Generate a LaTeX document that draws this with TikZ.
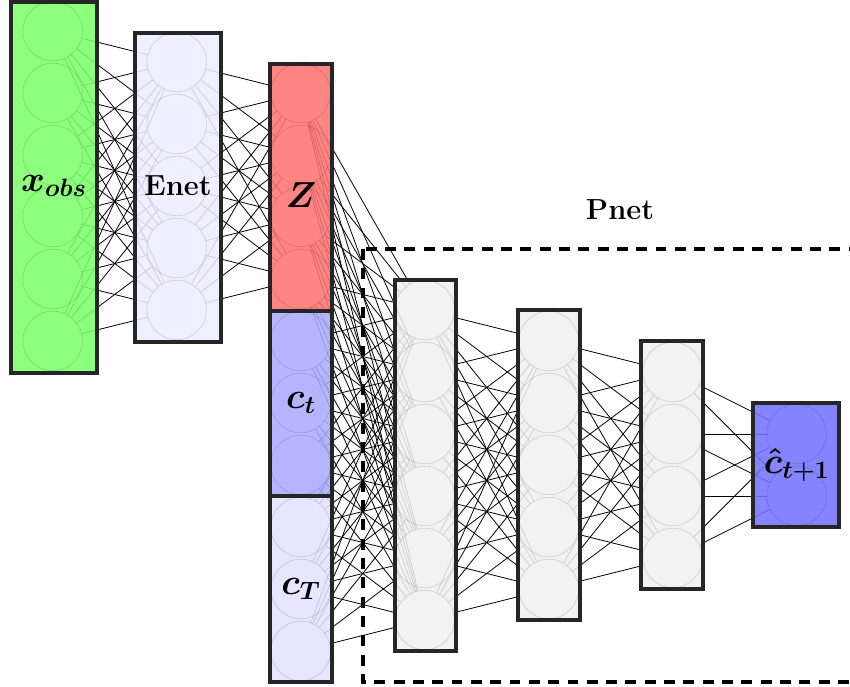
\documentclass[tikz,border=0pt]{standalone}
\usepackage{amsmath}
\usepackage{amssymb}
\usetikzlibrary{backgrounds}

\definecolor{obsgreen}{HTML}{7CFF6A}
\definecolor{enetblue}{HTML}{EDEDFF}
\definecolor{zred}{HTML}{FF7373}
\definecolor{ctblue}{HTML}{ABABFF}
\definecolor{cTblue}{HTML}{E2E2FF}
\definecolor{pnetgray}{HTML}{F0F0F0}
\definecolor{outblue}{HTML}{7373FF}

\pgfdeclarelayer{links}
\pgfdeclarelayer{boxes}
\pgfsetlayers{links,boxes,main}

\begin{document}
\begin{tikzpicture}[x=0.75cm,y=0.75cm,
  neuron/.style={circle,draw=black,draw opacity=0.15,minimum size=1.44cm,inner sep=0pt},
  layerbox/.style={draw=black!85,line width=2.6pt,fill opacity=0.88},
  link/.style={line width=0.55pt},
  tag/.style={font=\fontsize{20}{24}\selectfont},
  mathtag/.style={font=\fontsize{25}{30}\selectfont,inner sep=0pt}]
\useasboundingbox (0,0) rectangle (27.42,-22.16);

% neurons, one column per layer
\foreach \i in {1,...,6} \node[neuron] (a\i) at (1.7,{1-2*\i}) {};
\foreach \i in {1,...,5} \node[neuron] (b\i) at (5.7,{-2*\i}) {};
\foreach \i in {1,...,10} \node[neuron] (c\i) at (9.7,{-1-2*\i}) {};
\foreach \i in {1,...,6} \node[neuron] (d\i) at (13.7,{-8-2*\i}) {};
\foreach \i in {1,...,5} \node[neuron] (e\i) at (17.7,{-9-2*\i}) {};
\foreach \i in {1,...,4} \node[neuron] (f\i) at (21.7,{-10-2*\i}) {};
\foreach \i in {1,2} \node[neuron] (g\i) at (25.7,{-12-2*\i}) {};

% weights
\begin{pgfonlayer}{links}
\foreach \i in {1,...,6} \foreach \j in {1,...,5} \draw[link] (a\i) -- (b\j);
\foreach \i in {1,...,5} \foreach \j in {1,...,4} \draw[link] (b\i) -- (c\j);
\foreach \i in {1,...,10} \foreach \j in {1,...,6} \draw[link] (c\i) -- (d\j);
\foreach \i in {1,...,6} \foreach \j in {1,...,5} \draw[link] (d\i) -- (e\j);
\foreach \i in {1,...,5} \foreach \j in {1,...,4} \draw[link] (e\i) -- (f\j);
\foreach \i in {1,...,4} \foreach \j in {1,2} \draw[link] (f\i) -- (g\j);
\end{pgfonlayer}

% layer boxes
\begin{pgfonlayer}{boxes}
\draw[layerbox,fill=obsgreen] (0.35,-0.06) rectangle (3.13,-12.03);
\draw[layerbox,fill=enetblue] (4.35,-1.06) rectangle (7.13,-11.03);
\draw[layerbox,fill=zred] (8.71,-2.06) rectangle (10.71,-10.03);
\draw[layerbox,fill=ctblue] (8.71,-10.03) rectangle (10.71,-16);
\draw[layerbox,fill=cTblue] (8.71,-16) rectangle (10.71,-22);
\draw[layerbox,fill=pnetgray] (12.74,-9.03) rectangle (14.71,-21);
\draw[layerbox,fill=pnetgray] (16.7,-10) rectangle (18.7,-20);
\draw[layerbox,fill=pnetgray] (20.68,-11) rectangle (22.68,-19);
\draw[layerbox,fill=outblue] (24.3,-13) rectangle (27.06,-17);
\end{pgfonlayer}

% predictor frame
\draw[line width=2.3pt,dash pattern=on 7.5pt off 5.8pt] (11.71,-8.03) rectangle (28.5,-22);
\node[tag] (pnet) at (20,-6.77) {\textbf{Pnet}};

% labels
\node[mathtag] (xobs) at (1.74,-6) {$\boldsymbol{x_{obs}}$};
\node[tag] (enet) at (5.74,-6) {\textbf{Enet}};
\node[mathtag] (z) at (9.71,-6.3) {$\boldsymbol{Z}$};
\node[mathtag] (ct) at (9.71,-13) {$\boldsymbol{c_t}$};
\node[mathtag] (cT) at (9.71,-19) {$\boldsymbol{c_T}$};
\node[mathtag] (chat) at (25.7,-15) {$\boldsymbol{\hat{c}_{t+1}}$};
\end{tikzpicture}
\end{document}
